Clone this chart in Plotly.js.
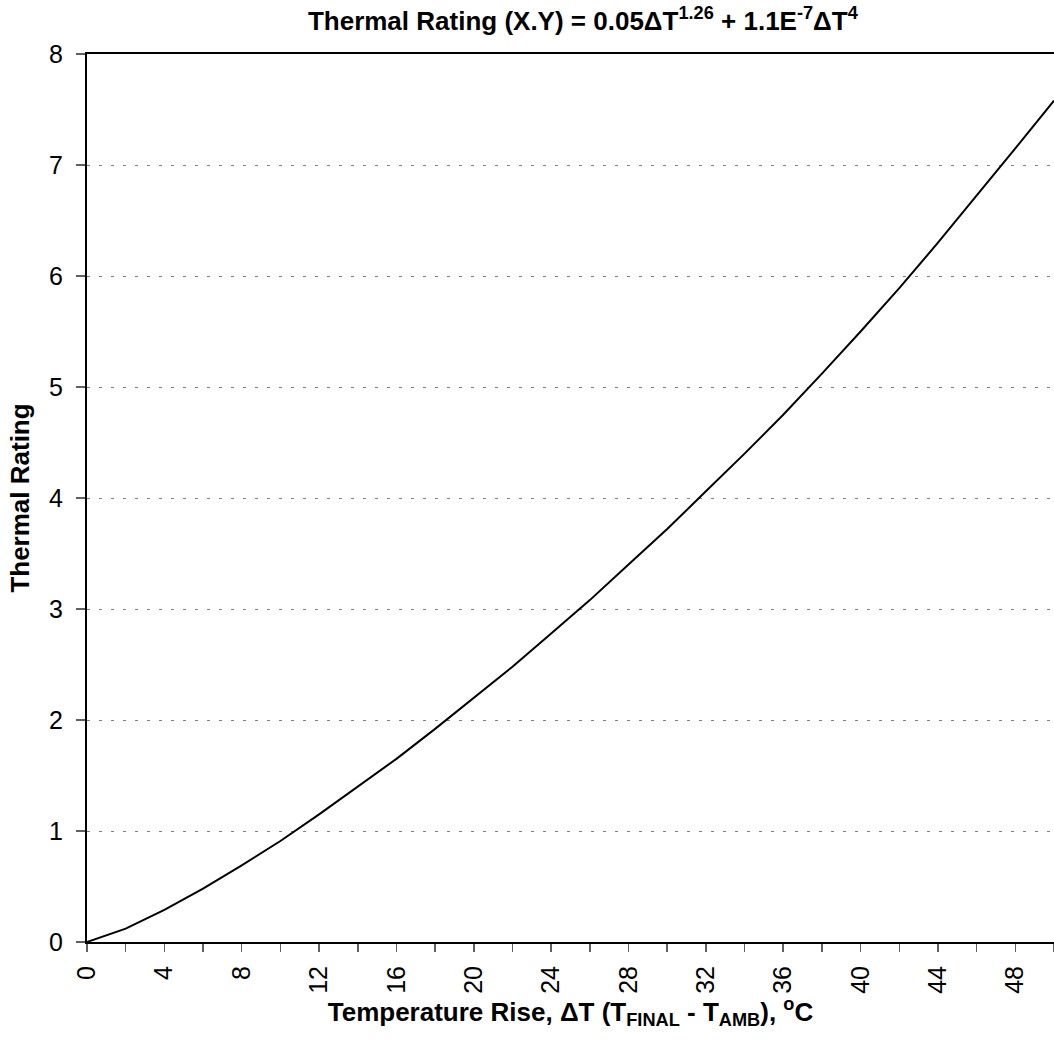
<!DOCTYPE html>
<html>
<head>
<meta charset="utf-8">
<script src="https://cdn.plot.ly/plotly-3.0.1.min.js"></script>
<style>html,body{margin:0;padding:0;background:#fff;}#chart{width:1054px;height:1044px;}</style>
</head>
<body>
<div id="chart"></div>
<script>
// Values
var deltaT = [0, 2, 4, 6, 8, 10, 12, 14, 16, 18, 20, 22, 24, 26, 28, 30, 32, 34, 36, 38, 40, 42, 44, 46, 48, 50];
var thermalRating = [0, 0.12, 0.29, 0.48, 0.69, 0.91, 1.15, 1.40, 1.65, 1.92, 2.20, 2.48, 2.78, 3.08, 3.40, 3.72, 4.06, 4.40, 4.75, 5.12, 5.50, 5.89, 6.30, 6.72, 7.15, 7.58];
var xTickVals = [0, 4, 8, 12, 16, 20, 24, 28, 32, 36, 40, 44, 48];
var xTickText = ['0', '4', '8', '12', '16', '20', '24', '28', '32', '36', '40', '44', '48'];
var yTickVals = [0, 1, 2, 3, 4, 5, 6, 7, 8];

var font = 'Arial, Liberation Sans, sans-serif';
var tickGrey = '#606060';

var traces = [{
  x: deltaT,
  y: thermalRating,
  type: 'scatter',
  mode: 'lines',
  line: {color: '#000000', width: 2},
  hoverinfo: 'x+y',
  showlegend: false
}];

var layout = {
  width: 1054,
  height: 1044,
  margin: {l: 87, r: 0, t: 54, b: 102},
  paper_bgcolor: '#ffffff',
  plot_bgcolor: '#ffffff',
  font: {family: font, color: '#000000'},
  title: {
    text: 'Thermal Rating (X.Y) = 0.05ΔT<sup>1.26</sup> + 1.1E<sup>-7</sup>ΔT<sup>4</sup>',
    font: {family: font, size: 26, color: '#000000', weight: 'bold'},
    xref: 'container', x: 0.553, xanchor: 'center',
    yref: 'container', y: 0.989, yanchor: 'top'
  },
  xaxis: {
    range: [0, 50],
    tickmode: 'array',
    tickvals: xTickVals,
    ticktext: xTickText,
    tickangle: -90,
    ticks: 'outside',
    ticklen: 8,
    tickwidth: 1.5,
    tickcolor: tickGrey,
    minor: {dtick: 2, tick0: 0, ticks: 'outside', ticklen: 8, tickwidth: 1.5, tickcolor: tickGrey, showgrid: false},
    tickfont: {family: font, size: 25, color: '#000000'},
    ticklabelstandoff: 4,
    showline: true,
    linecolor: '#000000',
    linewidth: 2,
    mirror: true,
    showgrid: false,
    zeroline: false,
    title: {
      text: 'Temperature Rise, ΔT (T<sub>FINAL</sub> - T<sub>AMB</sub>), <sup>o</sup>C',
      font: {family: font, size: 26, color: '#000000', weight: 'bold'},
      standoff: 6
    }
  },
  xaxis2: {
    overlaying: 'x',
    matches: 'x',
    range: [0, 50],
    anchor: 'y',
    side: 'bottom',
    tickmode: 'linear',
    tick0: 0,
    dtick: 2,
    ticks: 'inside',
    ticklen: 8,
    tickwidth: 1.5,
    tickcolor: tickGrey,
    showticklabels: false,
    showgrid: false,
    zeroline: false,
    showline: false
  },
  yaxis: {
    range: [0, 8],
    tickmode: 'array',
    tickvals: yTickVals,
    ticks: 'outside',
    ticklen: 9,
    tickwidth: 1.5,
    tickcolor: tickGrey,
    tickfont: {family: font, size: 25, color: '#000000'},
    ticklabelstandoff: 8,
    showline: true,
    linecolor: '#000000',
    linewidth: 2,
    showgrid: true,
    gridcolor: '#808080',
    gridwidth: 1,
    griddash: '3px,9px',
    zeroline: false,
    title: {
      text: 'Thermal Rating',
      font: {family: font, size: 26, color: '#000000', weight: 'bold'},
      standoff: 12
    }
  }
};

Plotly.newPlot('chart', traces, layout, {displayModeBar: false, staticPlot: true});
</script>
</body>
</html>
